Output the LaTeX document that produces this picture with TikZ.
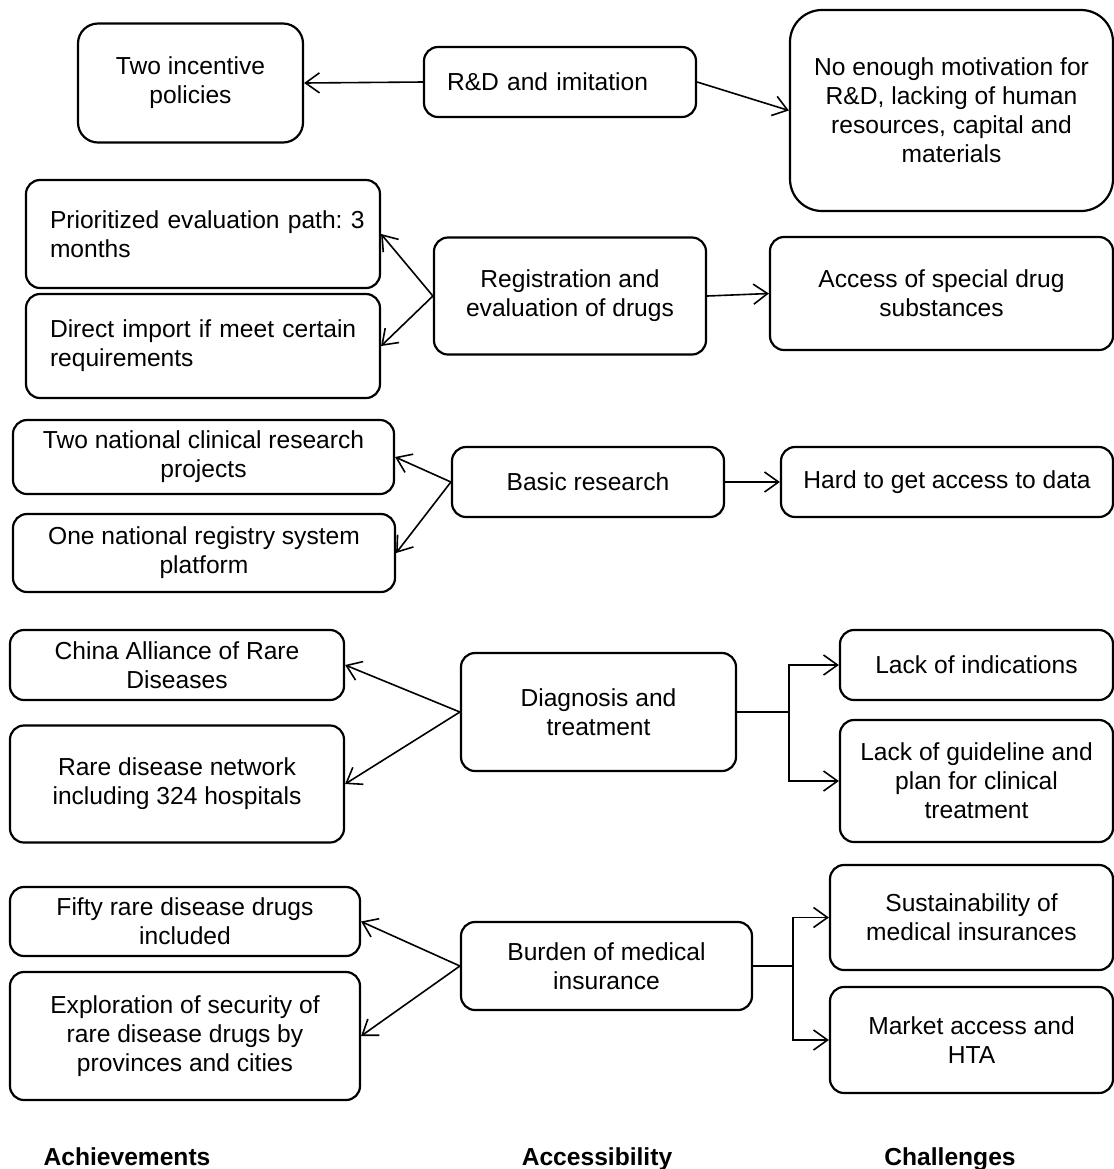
\documentclass[tikz,border=0pt]{standalone}
\usepackage{fontspec}
\setmainfont{Liberation Sans}
\usetikzlibrary{arrows.meta}
\frenchspacing

\tikzset{
	box/.style={draw, line width=1.1pt, rounded corners=7pt, align=center,
		inner sep=0pt, font=\fontsize{12.3pt}{14.5pt}\selectfont},
	arr/.style={line width=0.8pt, -{Straight Barb[length=7pt, width=10pt]}},
	lbl/.style={font=\fontsize{12.3pt}{14.5pt}\selectfont\bfseries, anchor=base}
}

\begin{document}
\begin{tikzpicture}[x=0.5pt, y=-0.5pt]
		\useasboundingbox (0, 0) rectangle (1114, 1169);
		
		% accessibility (middle column)
		\node[box, minimum width=136pt, minimum height=35pt, text width=113pt,
			align=left, inner xsep=11.5pt] (rd) at (560, 82) {R\&D and imitation};
		\node[box, minimum width=136pt, minimum height=58.5pt] (reg) at (570, 296)
			{Registration and\\evaluation of drugs};
		\node[box, minimum width=136pt, minimum height=35pt] (basic) at (588, 482)
			{Basic research};
		\node[box, minimum width=137.5pt, minimum height=59pt] (diag) at (598.5, 712)
			{Diagnosis and\\treatment};
		\node[box, minimum width=145.5pt, minimum height=44pt] (burden) at (606.5, 966)
			{Burden of medical\\insurance};
		
		% achievements (left column)
		\node[box, rounded corners=10pt, minimum width=112.5pt, minimum height=59.5pt]
			(incent) at (190.5, 83) {Two incentive\\policies};
		\node[box, minimum width=177pt, minimum height=54pt, text width=153pt,
			align=left, inner xsep=12pt] (prior) at (203, 234)
			{\mbox{Prioritized evaluation path: 3}\\months};
		\node[box, minimum width=177pt, minimum height=52pt, text width=153pt,
			align=left, inner xsep=12pt] (direct) at (203, 346)
			{\mbox{Direct import if meet certain}\\requirements};
		\node[box, minimum width=190.5pt, minimum height=37pt] (twonat) at (203.5, 457)
			{Two national clinical research\\projects};
		\node[box, minimum width=191pt, minimum height=39pt] (onenat) at (204, 553)
			{One national registry system\\platform};
		\node[box, minimum width=167pt, minimum height=35pt] (china) at (177, 665)
			{China Alliance of Rare\\Diseases};
		\node[box, minimum width=167pt, minimum height=58.5pt] (network) at (177, 784)
			{Rare disease network\\including 324 hospitals};
		\node[box, minimum width=175pt, minimum height=34.5pt] (fifty) at (185, 921.5)
			{Fifty rare disease drugs\\included};
		\node[box, minimum width=175pt, minimum height=64pt] (explor) at (185, 1036)
			{Exploration of security of\\rare disease drugs by\\provinces and cities};
		
		% challenges (right column)
		\node[box, rounded corners=16pt, minimum width=161.5pt, minimum height=100.5pt]
			(motiv) at (951.5, 110.5)
			{No enough motivation for\\R\&D, lacking of human\\resources, capital and\\materials};
		\node[box, minimum width=171.5pt, minimum height=56.5pt] (access) at (941.5, 293.5)
			{Access of special drug\\substances};
		\node[box, minimum width=166pt, minimum height=35pt] (hard) at (947, 482)
			{Hard to get access to data};
		\node[box, minimum width=136.5pt, minimum height=35pt] (indic) at (976.5, 665)
			{Lack of indications};
		\node[box, minimum width=136.5pt, minimum height=61pt] (guide) at (976.5, 781)
			{Lack of guideline and\\plan for clinical\\treatment};
		\node[box, minimum width=141.5pt, minimum height=52.5pt] (sustain) at (971.5, 917.5)
			{Sustainability of\\medical insurances};
		\node[box, minimum width=141.5pt, minimum height=53pt] (market) at (971.5, 1040)
			{Market access and\\HTA};
		
		% connectors
		\draw[arr] (rd.west) -- (incent.east);
		\draw[arr] (rd.east) -- (motiv.west);
		\draw[arr] (reg.west) -- (prior.east);
		\draw[arr] (reg.west) -- (direct.east);
		\draw[arr] (reg.east) -- (access.west);
		\draw[arr] (basic.west) -- (twonat.east);
		\draw[arr] (basic.west) -- (onenat.east);
		\draw[arr] (basic.east) -- (hard.west);
		\draw[arr] (diag.west) -- (china.east);
		\draw[arr] (diag.west) -- (network.east);
		\draw[arr] (diag.east) -- ++(52, 0) |- (indic.west);
		\draw[arr] (diag.east) -- ++(52, 0) |- (guide.west);
		\draw[arr] (burden.west) -- (fifty.east);
		\draw[arr] (burden.west) -- (explor.east);
		\draw[arr] (burden.east) -- ++(40, 0) |- (sustain.west);
		\draw[arr] (burden.east) -- ++(40, 0) |- (market.west);
		
		% column titles
		\node[lbl] (achv) at (127, 1165) {Achievements};
		\node[lbl] (accs) at (597, 1165) {Accessibility};
		\node[lbl] (chal) at (950, 1165) {Challenges};
	\end{tikzpicture}
\end{document}
